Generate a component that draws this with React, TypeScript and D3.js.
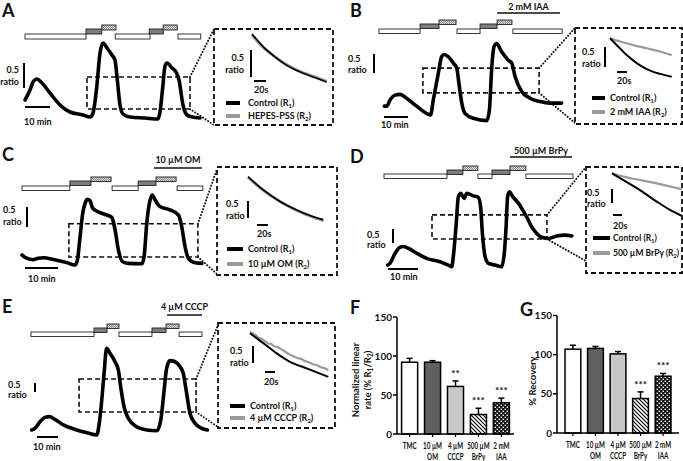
import React from "react";
import * as d3 from "d3";

type Pt = [number, number]; // [time, ratio]
type Seg = [number, number, number]; // [start min, end min, solution level]

const FONT = "Lato, 'Open Sans', sans-serif";

// ================= DATA =================
// Panel A (HEPES-PSS)
const traceA: Pt[] = [[0,0.70],[2,0.90],[3.2,1.06],[4.8,1.12],[6.4,1.06],[10,0.84],[14,0.60],[18,0.46],[23.2,0.40],[26,0.36],[27.2,0.44],[28.7,0.96],[30,1.64],[31.2,1.84],[32.8,1.74],[34.8,1.60],[36,1.50],[36.8,1.16],[38,0.60],[39.2,0.42],[42,0.36],[48,0.34],[53.2,0.32],[54,0.46],[55.1,0.96],[56,1.38],[56.8,1.44],[58.8,1.34],[60.4,1.26],[61.6,1.10],[63.2,0.60],[64.8,0.40],[66.8,0.36],[70,0.34]];
const protocolA: Seg[] = [[0,24.4,0],[24.4,30.7,1],[30.7,36.4,2],[36.1,50,0],[49.7,55.3,1],[55.3,60.9,2],[61.2,70.3,0]];
const windowA = [24.8, 66, 0.52, 1.16];
const insetCtrlA: Pt[] = [[0,1.52],[18.8,1.28],[35.5,1.12],[57.8,0.94],[85.5,0.79],[107.8,0.70],[124.5,0.63]];
const insetTreatA: Pt[] = [[0,1.50],[18.8,1.27],[35.5,1.12],[57.8,0.95],[85.5,0.80],[107.8,0.71],[124.5,0.64]];

// Panel B (2 mM IAA)
const traceB: Pt[] = [[2.2,0.68],[3.2,0.68],[4.6,0.84],[6.7,0.97],[8.75,0.99],[11.5,0.89],[15.7,0.68],[21.5,0.45],[22.6,0.84],[24.7,1.54],[26.1,1.98],[27.2,2.04],[28.9,1.98],[31,1.81],[32.4,1.68],[33.3,1.28],[34.5,0.76],[35.8,0.49],[39.3,0.36],[44.9,0.30],[46,0.58],[47,1.72],[47.9,2.24],[49,2.33],[51.1,2.11],[53.9,1.89],[55.3,1.81],[56.7,1.46],[59.5,1.06],[62.9,0.89],[67.1,0.80],[71.3,0.76],[76.1,0.76]];
const protocolB: Seg[] = [[0,17.1,0],[17.1,25,1],[25,32.1,2],[32.5,42.1,0],[42.1,49.2,1],[49.2,55.4,2],[55.8,76.3,0]];
const drugB: [number, number] = [49.2, 75.4];
const windowB = [18.3, 66.7, 1.03, 1.68];
const insetCtrlB: Pt[] = [[0,1.50],[16.6,1.29],[33.4,1.08],[53.4,0.88],[73.4,0.73],[100,0.61],[123.4,0.54]];
const insetTreatB: Pt[] = [[0,1.50],[20,1.42],[46.6,1.33],[73.4,1.25],[100,1.17],[123.4,1.08]];

// Panel C (10 µM OM)
const traceC: Pt[] = [[0,0.55],[1.4,0.47],[3.4,0.43],[4.9,0.47],[6.5,0.48],[9.5,0.44],[13.5,0.36],[16.1,0.30],[16.8,0.43],[17.6,1.01],[18.4,1.59],[19.1,1.84],[19.8,1.94],[20.6,1.91],[21.4,1.72],[23.1,1.63],[25.7,1.55],[27.2,1.49],[28.2,1.18],[29.2,0.68],[30.5,0.38],[32.2,0.34],[36.3,0.33],[37,0.51],[37.8,1.34],[38.6,1.84],[39.5,2.05],[40.3,1.93],[41.8,1.76],[44.8,1.68],[47.4,1.55],[48.4,1.26],[49.4,0.76],[50.4,0.47],[51.9,0.37],[54.5,0.34]];
const protocolC: Seg[] = [[0,14.5,0],[14.5,20.9,1],[20.9,27,2],[27.3,35.2,0],[35.2,40.6,1],[40.6,46.7,2],[47,54.8,0]];
const drugC: [number, number] = [40, 54.5];
const windowC = [14.2, 53.3, 0.50, 1.33];
const insetCtrlC: Pt[] = [[0,1.80],[27.8,1.41],[58.2,1.07],[88.5,0.82],[118.7,0.62],[136.9,0.53]];
const insetTreatC: Pt[] = [[0,1.79],[27.8,1.40],[58.2,1.07],[88.5,0.81],[118.7,0.61],[136.9,0.51]];

// Panel D (500 µM BrPy)
const traceD: Pt[] = [[1.2,0.37],[2,0.43],[3.7,0.79],[5.3,1.00],[6.4,1.03],[8.1,0.97],[10.9,0.79],[14.2,0.61],[18.7,0.49],[21.4,0.37],[22.6,0.31],[23.1,0.67],[24,1.74],[24.8,2.81],[25.6,2.93],[26.7,2.75],[27.6,2.93],[29.8,2.84],[31.4,2.79],[32.2,2.45],[32.8,1.50],[33.7,0.67],[34.8,0.43],[37,0.37],[39.2,0.31],[40.1,0.79],[40.7,1.74],[41.2,2.81],[41.8,2.99],[42.9,2.81],[44.8,2.58],[46.2,2.34],[47.8,2.04],[49.2,1.74],[50.9,1.50],[52.6,1.36],[54.8,1.32],[57.6,1.41],[60.3,1.44],[62.6,1.41]];
const protocolD: Seg[] = [[0,21,0],[21,26.3,1],[26.3,31.3,2],[31.3,36,0],[36,42,1],[42,47.3,2],[47.3,63,0]];
const drugD: [number, number] = [42, 62.7];
const windowD = [16, 54.3, 1.30, 2.16];
const insetCtrlD: Pt[] = [[0,2.0],[25.2,1.76],[62.2,1.40],[99.3,0.99],[128.9,0.69],[154.9,0.48]];
const insetTreatD: Pt[] = [[0,2.0],[25.2,1.88],[62.2,1.76],[99.3,1.64],[136.3,1.50],[154.9,1.43]];

// Panel E (4 µM CCCP)
const traceE: Pt[] = [[0.3,0.58],[1.9,0.67],[4.3,1.04],[6.7,1.28],[8.7,1.32],[11.4,1.17],[15.4,0.86],[21.8,0.58],[26.5,0.43],[31.3,0.30],[32.5,0.95],[33.7,2.24],[34.8,3.73],[36,5.12],[37.6,4.84],[40,4.37],[41.6,3.91],[42.7,2.98],[44.3,1.87],[46.3,1.23],[50.3,0.76],[55.1,0.58],[59.9,0.54],[61.8,1.13],[63.4,2.80],[64.6,4.01],[66.2,4.43],[68.6,4.37],[71,4.09],[72.5,3.73],[74.1,2.62],[75.7,1.51],[78.1,0.95],[81.3,0.67],[84,0.58]];
const protocolE: Seg[] = [[0,30,0],[30,36.2,1],[36.2,41.9,2],[41.9,57.6,0],[57.6,64.3,1],[64.3,70.5,2],[70.5,81.4,0]];
const drugE: [number, number] = [64.8, 81.4];
const windowE = [22.9, 78.6, 1.58, 3.41];
const insetCtrlE: Pt[] = [[0,1.80],[26.6,1.51],[53.4,1.21],[80,0.96],[113.4,0.77],[156.6,0.52]];
const insetTreatE: Pt[] = [[0,1.85],[10,1.76],[18,1.66],[22,1.65],[30,1.57],[36,1.50],[42,1.49],[48,1.42],[55,1.40],[62,1.33],[68,1.29],[74,1.22],[80,1.17],[88,1.12],[95,1.07],[102,1.05],[110,0.98],[118,0.95],[126,0.89],[134,0.86],[142,0.80],[150,0.77],[156.6,0.72]];

// Panels F & G (bar charts)
const barCategories = ["TMC", "10 µM OM", "4 µM CCCP", "500 µM BrPy", "2 mM IAA"];
const barLabelLines = [["TMC"], ["10 µM", "OM"], ["4 µM", "CCCP"], ["500 µM", "BrPy"], ["2 mM", "IAA"]];
const rateMeans = [92, 92, 61, 25, 40];
const rateErrors = [5, 2, 7, 8, 6];
const rateStars = ["", "", "**", "***", "***"];
const recoveryMeans = [107, 108, 101, 44, 72.5];
const recoveryErrors = [5, 2.5, 3, 8.5, 3.5];
const recoveryStars = ["", "", "", "***", "***"];

// ================= LAYOUT =================
const panels = [
  {
    letter: "A", lx: 2, ly: 17, trace: traceA, protocol: protocolA, drug: null as any, drugLabel: "", window: windowA,
    ctrl: insetCtrlA, treat: insetTreatA, treatName: "HEPES-PSS",
    L: { x0: 25, kx: 2.5, y0: 135, ky: 50, tops: [34, 29, 25], bh: 5, drugY: 0, drugTextY: 0,
      vb: [24, 88], vt: [19, 73, 85, "end"], hb: [25, 107], ht: [24, 125],
      box: [214, 29, 119, 96], con: [29, 125],
      ix0: 252, ikx: 0.6, iy0: 116, iky: 54, ivb: [251, 77], ivt: [244, 61, 73, "end"], ihb: [254, 81], iht: [254, 93],
      leg: [226, 240, 103, 116, 248], legFs: 9 },
  },
  {
    letter: "B", lx: 350, ly: 17, trace: traceB, protocol: protocolB, drug: drugB, drugLabel: "2 mM IAA", window: windowB,
    ctrl: insetCtrlB, treat: insetTreatB, treatName: "2 mM IAA",
    L: { x0: 379, kx: 2.4, y0: 132, ky: 38, tops: [29, 24, 20], bh: 4.5, drugY: 13, drugTextY: 9.5,
      vb: [374, 73], vt: [348, 62, 73, "start"], hb: [384, 117], ht: [381, 128],
      box: [575, 28, 107, 96], con: [28, 123],
      ix0: 610, ikx: 0.5, iy0: 98.3, iky: 40, ivb: [605, 67], ivt: [582, 55, 67, "start"], ihb: [617, 72], iht: [617, 84],
      leg: [592, 605, 98, 112, 610], legFs: 9 },
  },
  {
    letter: "C", lx: 2, ly: 161, trace: traceC, protocol: protocolC, drug: drugC, drugLabel: "10 µM OM", window: windowC,
    ctrl: insetCtrlC, treat: insetTreatC, treatName: "10 µM OM",
    L: { x0: 22, kx: 3.3, y0: 277, ky: 40, tops: [186, 181, 177], bh: 4.5, drugY: 168, drugTextY: 163,
      vb: [27, 227], vt: [3, 213, 225, "start"], hb: [25, 268], ht: [28, 282],
      box: [217, 167, 120, 108], con: [169, 274],
      ix0: 248, ikx: 0.55, iy0: 237.9, iky: 34, ivb: [248, 218], ivt: [226, 207, 219, "start"], ihb: [257, 225], iht: [257, 237],
      leg: [227, 243, 249, 264, 248], legFs: 9 },
  },
  {
    letter: "D", lx: 350, ly: 163, trace: traceD, protocol: protocolD, drug: drugD, drugLabel: "500 µM BrPy", window: windowD,
    ctrl: insetCtrlD, treat: insetTreatD, treatName: "500 µM BrPy",
    L: { x0: 384, kx: 3, y0: 275.4, ky: 28, tops: [174, 170, 166], bh: 4.5, drugY: 157, drugTextY: 154,
      vb: [393, 243], vt: [367, 238, 248, "start"], hb: [388, 269], ht: [390, 280],
      box: [586, 167, 96, 106], con: [167, 261],
      ix0: 612, ikx: 0.45, iy0: 229.3, iky: 28, ivb: [612, 203], ivt: [587, 196, 207, "start"], ihb: [613, 215], iht: [613, 229],
      leg: [593, 610, 238, 253, 613], legFs: 8.5 },
  },
  {
    letter: "E", lx: 2, ly: 313, trace: traceE, protocol: protocolE, drug: drugE, drugLabel: "4 µM CCCP", window: windowE,
    ctrl: insetCtrlE, treat: insetTreatE, treatName: "4 µM CCCP",
    L: { x0: 31, kx: 2.1, y0: 440.4, ky: 18, tops: [332, 328, 324], bh: 4.5, drugY: 315, drugTextY: 310,
      vb: [35, 392], vt: [8, 388, 398, "start"], hb: [37, 437], ht: [33, 450],
      box: [218, 323, 117, 105], con: [325, 427],
      ix0: 250, ikx: 0.5, iy0: 394.5, iky: 34, ivb: [253, 363], ivt: [230, 354, 366, "start"], ihb: [265, 372], iht: [264, 385],
      leg: [230, 245, 406, 418, 250], legFs: 9 },
  },
];

const protoFill = ["#ffffff", "#7d7d7d", "url(#protoHatch)"];

function LegendLabel({ x, y, name, sub, fs }: any) {
  return (
    <text x={x} y={y} fontSize={fs} fontFamily={FONT} fontWeight={700} fill="#111">
      {name} (R<tspan fontSize={fs * 0.65} dy={2}>{sub}</tspan><tspan dy={-2}>)</tspan>
    </text>
  );
}

function TracePanel({ p }: any) {
  const L = p.L;
  const x = d3.scaleLinear().domain([0, 10]).range([L.x0, L.x0 + 10 * L.kx]);
  const y = d3.scaleLinear().domain([0, 1]).range([L.y0, L.y0 - L.ky]);
  const line = d3.line<Pt>().x((d) => x(d[0])).y((d) => y(d[1])).curve(d3.curveMonotoneX);
  const xi = d3.scaleLinear().domain([0, 20]).range([L.ix0, L.ix0 + 20 * L.ikx]);
  const yi = d3.scaleLinear().domain([0, 1]).range([L.iy0, L.iy0 - L.iky]);
  const iline = d3.line<Pt>().x((d) => xi(d[0])).y((d) => yi(d[1])).curve(d3.curveMonotoneX);
  const ilineLin = d3.line<Pt>().x((d) => xi(d[0])).y((d) => yi(d[1]));
  const [t0, t1, rLo, rHi] = p.window;
  const vLen = y(0) - y(0.5);
  const hLen = x(10) - x(0);
  const ivLen = yi(0) - yi(0.5);
  const ihLen = xi(20) - xi(0);
  const [bx, by, bw, bh] = L.box;
  const txt = { fontFamily: FONT, fontWeight: 700, fontSize: 9, fill: "#111" } as any;
  return (
    <g>
      <text x={p.lx} y={p.ly} fontFamily={FONT} fontWeight={700} fontSize={18} fill="#111">{p.letter}</text>
      {p.protocol.map((s: Seg, i: number) => (
        <rect key={i} x={x(s[0])} y={L.tops[s[2]]} width={x(s[1]) - x(s[0])} height={L.bh}
          fill={protoFill[s[2]]} stroke="#222" strokeWidth={0.9} />
      ))}
      {p.drug && (
        <g>
          <line x1={x(p.drug[0])} x2={x(p.drug[1])} y1={L.drugY} y2={L.drugY} stroke="#111" strokeWidth={1.6} />
          <text x={(x(p.drug[0]) + x(p.drug[1])) / 2} y={L.drugTextY} textAnchor="middle" {...txt}>{p.drugLabel}</text>
        </g>
      )}
      <rect x={x(t0)} y={y(rHi)} width={x(t1) - x(t0)} height={y(rLo) - y(rHi)} fill="none" stroke="#111"
        strokeWidth={1.6} strokeDasharray="5,3" />
      <path d={line(p.trace) || ""} fill="none" stroke="#000" strokeWidth={3.6} strokeLinejoin="round" strokeLinecap="round" />
      <line x1={x(t1)} y1={y(rHi)} x2={bx} y2={L.con[0]} stroke="#111" strokeWidth={2} strokeDasharray="0.1,3" strokeLinecap="round" />
      <line x1={x(t1)} y1={y(rLo)} x2={bx} y2={L.con[1]} stroke="#111" strokeWidth={2} strokeDasharray="0.1,3" strokeLinecap="round" />
      <line x1={L.vb[0]} x2={L.vb[0]} y1={L.vb[1]} y2={L.vb[1] - vLen} stroke="#000" strokeWidth={2} />
      <text x={L.vt[0]} y={L.vt[1]} textAnchor={L.vt[3]} {...txt}>0.5</text>
      <text x={L.vt[0]} y={L.vt[2]} textAnchor={L.vt[3]} {...txt}>ratio</text>
      <line x1={L.hb[0]} x2={L.hb[0] + hLen} y1={L.hb[1]} y2={L.hb[1]} stroke="#000" strokeWidth={2} />
      <text x={L.ht[0]} y={L.ht[1]} {...txt}>10 min</text>
      <rect x={bx} y={by} width={bw} height={bh} fill="#fff" stroke="#111" strokeWidth={1.8} strokeDasharray="5,3" />
      <path d={(p.letter === "E" ? ilineLin(p.treat) : iline(p.treat)) || ""} fill="none" stroke="#9a9a9a"
        strokeWidth={p.letter === "A" || p.letter === "C" ? 3 : 2.2} strokeLinejoin="round" />
      <path d={iline(p.ctrl) || ""} fill="none" stroke="#000" strokeWidth={p.letter === "A" || p.letter === "C" ? 1.6 : 2} />
      <line x1={L.ivb[0]} x2={L.ivb[0]} y1={L.ivb[1]} y2={L.ivb[1] - ivLen} stroke="#000" strokeWidth={2} />
      <text x={L.ivt[0]} y={L.ivt[1]} textAnchor={L.ivt[3]} {...txt}>0.5</text>
      <text x={L.ivt[0]} y={L.ivt[2]} textAnchor={L.ivt[3]} {...txt}>ratio</text>
      <line x1={L.ihb[0]} x2={L.ihb[0] + ihLen} y1={L.ihb[1]} y2={L.ihb[1]} stroke="#000" strokeWidth={2} />
      <text x={L.iht[0]} y={L.iht[1]} {...txt}>20s</text>
      <line x1={L.leg[0]} x2={L.leg[1]} y1={L.leg[2]} y2={L.leg[2]} stroke="#000" strokeWidth={4} />
      <line x1={L.leg[0]} x2={L.leg[1]} y1={L.leg[3]} y2={L.leg[3]} stroke="#9a9a9a" strokeWidth={4} />
      <LegendLabel x={L.leg[4]} y={L.leg[2] + 3} name="Control" sub="1" fs={L.legFs} />
      <LegendLabel x={L.leg[4]} y={L.leg[3] + 3} name={p.treatName} sub="2" fs={L.legFs} />
    </g>
  );
}

const barFills = ["#ffffff", "#606060", "#c8c8c8", "url(#diagHatch)", "url(#checker)"];

function BarPanel({ letter, lx, ly, means, errors, stars, B }: any) {
  const y = d3.scaleLinear().domain([0, 150]).range([B.y0, B.y150]);
  const x = d3.scaleBand().domain(barCategories).range(B.xr).paddingInner(0.3).paddingOuter(B.po);
  const bw = x.bandwidth();
  const txt = { fontFamily: FONT, fontWeight: 700, fill: "#111" } as any;
  return (
    <g>
      <text x={lx} y={ly} fontFamily={FONT} fontWeight={700} fontSize={18} fill="#111">{letter}</text>
      {barCategories.map((c, i) => {
        const bx = x(c)!;
        const cx = bx + bw / 2;
        return (
          <g key={c}>
            <line x1={cx} x2={cx} y1={y(means[i])} y2={y(means[i] + errors[i])} stroke="#000" strokeWidth={1.5} />
            <line x1={cx - 3} x2={cx + 3} y1={y(means[i] + errors[i])} y2={y(means[i] + errors[i])} stroke="#000" strokeWidth={1.5} />
            <rect x={bx} y={y(means[i])} width={bw} height={y(0) - y(means[i])} fill={barFills[i]} stroke="#000" strokeWidth={1.5} />
            {stars[i] && (
              <text x={cx} y={y(means[i] + errors[i]) - 4} textAnchor="middle" fontSize={10} {...txt}>{stars[i]}</text>
            )}
            <line x1={cx} x2={cx} y1={y(0)} y2={y(0) + 3} stroke="#000" strokeWidth={1.2} />
            {barLabelLines[i].map((s, j) => (
              <text key={j} transform={`translate(${cx},${y(0) + 15 + j * 11}) scale(0.74,1)`} textAnchor="middle"
                fontSize={8.5} {...txt}>{s}</text>
            ))}
          </g>
        );
      })}
      <line x1={B.xr[0]} x2={B.xr[1]} y1={y(0)} y2={y(0)} stroke="#000" strokeWidth={1.5} />
      <line x1={B.xr[0]} x2={B.xr[0]} y1={y(0)} y2={y(150)} stroke="#000" strokeWidth={1.5} />
      {y.ticks(3).map((t) => (
        <g key={t}>
          <line x1={B.xr[0] - 4} x2={B.xr[0]} y1={y(t)} y2={y(t)} stroke="#000" strokeWidth={1.5} />
          <text x={B.xr[0] - 5} y={y(t) + 3.5} textAnchor="end" fontSize={10} {...txt}>{t}</text>
        </g>
      ))}
      {B.ylabel}
    </g>
  );
}

export default function App() {
  const txt = { fontFamily: FONT, fontWeight: 700, fill: "#111", fontSize: 9.5 } as any;
  const Bf = {
    y0: 434, y150: 317, xr: [397, 514], po: 0.2,
    ylabel: (
      <g>
        <text transform="translate(359,380) rotate(-90)" textAnchor="middle" {...txt}>Normalized linear</text>
        <text transform="translate(371,380) rotate(-90)" textAnchor="middle" {...txt}>
          rate (% R<tspan fontSize={6.5} dy={2}>1</tspan><tspan dy={-2}>/R</tspan><tspan fontSize={6.5} dy={2}>2</tspan><tspan dy={-2}>)</tspan>
        </text>
      </g>
    ),
  };
  const Bg = {
    y0: 433, y150: 315.5, xr: [557, 679], po: 0.356,
    ylabel: <text transform="translate(536,381) rotate(-90)" textAnchor="middle" {...txt}>% Recovery</text>,
  };
  return (
    <svg width={683} height={461} style={{ position: "absolute", left: 0, top: 0, background: "#fff" }}>
      <defs>
        <pattern id="protoHatch" patternUnits="userSpaceOnUse" width={2} height={2}>
          <rect width={2} height={2} fill="#dcdcdc" />
          <rect width={1} height={1} fill="#8a8a8a" />
          <rect x={1} y={1} width={1} height={1} fill="#8a8a8a" />
        </pattern>
        <pattern id="diagHatch" patternUnits="userSpaceOnUse" width={4} height={4}>
          <rect width={4} height={4} fill="#fff" />
          <path d="M-1,-1 L5,5 M-1,3 L1,5 M3,-1 L5,1" stroke="#000" strokeWidth={1.1} />
        </pattern>
        <pattern id="checker" patternUnits="userSpaceOnUse" width={4} height={4}>
          <rect width={4} height={4} fill="#111" />
          <rect x={0.6} y={0.6} width={1.4} height={1.4} fill="#fff" />
          <rect x={2.6} y={2.6} width={1.4} height={1.4} fill="#fff" />
        </pattern>
      </defs>
      {panels.map((p) => <TracePanel key={p.letter} p={p} />)}
      <BarPanel letter="F" lx={350} ly={314} means={rateMeans} errors={rateErrors} stars={rateStars} B={Bf} />
      <BarPanel letter="G" lx={520} ly={316} means={recoveryMeans} errors={recoveryErrors} stars={recoveryStars} B={Bg} />
    </svg>
  );
}
